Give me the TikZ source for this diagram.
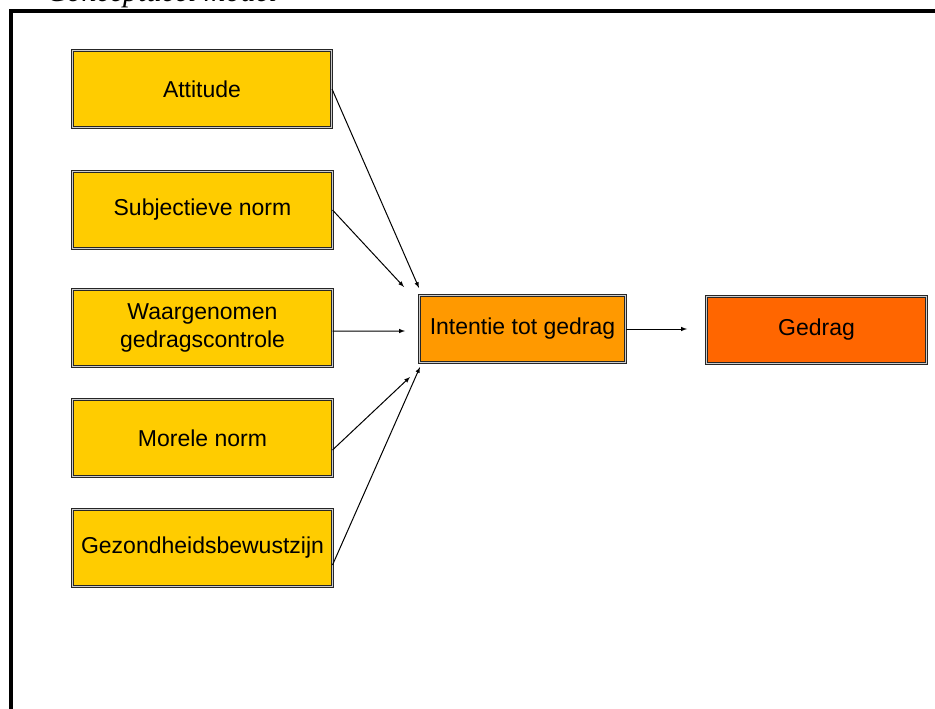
\documentclass[tikz,border=0pt]{standalone}
\usepackage{fontspec}
\setmainfont{Liberation Sans}
\newfontfamily\titlefont{Liberation Serif}
\usetikzlibrary{arrows}

\begin{document}
\begin{tikzpicture}[x=1bp,y=-1bp]

	\definecolor{geel}{RGB}{255,204,0}
	\definecolor{oranje}{RGB}{255,153,0}
	\definecolor{rood}{RGB}{255,102,0}

	\useasboundingbox (0,0) rectangle (935,709);
	\draw[line width=4bp] (10.5,760) -- (10.5,11) -- (990,11);
	\node[anchor=base west, font=\titlefont\itshape\fontsize{30bp}{34bp}\selectfont] (title) at (43,2) {Conceptueel model};

	\tikzstyle{edge} = [draw,->,>=latex,line width=1bp]
	\tikzset{factor/.style = {shape=rectangle,draw=black!85,line width=1bp,double=black!20,double distance=1bp,fill=geel,minimum width=259bp,minimum height=77bp,inner sep=0pt,align=center,font=\fontsize{23bp}{28bp}\selectfont}}
	\node[factor] (att) at (202,89) {Attitude};
	\node[factor] (subj) at (202.5,210) {Subjectieve norm};
	\node[factor] (waar) at (202.5,328) {Waargenomen\\gedragscontrole};
	\node[factor] (mor) at (202.5,438) {Morele norm};
	\node[factor] (gez) at (202.5,548) {Gezondheidsbewustzijn};

	\tikzset{factor/.append style = {minimum height=67bp}}
	\node[factor, fill=oranje, minimum width=206bp] (int) at (522.5,329) {Intentie tot gedrag};
	\node[factor, fill=rood, minimum width=220bp] (ged) at (816.5,330) {Gedrag};

	% losse eindpunten van de pijlen
	\coordinate (p1) at (419,288);
	\coordinate (p2) at (404,287);
	\coordinate (p3) at (405,331);
	\coordinate (p4) at (410,377);
	\coordinate (p5) at (420,367);
	\coordinate (p6) at (687,329);

	\draw[edge] (att.east) to (p1);
	\draw[edge] (subj.east) to (p2);
	\draw[edge] ([yshift=-3bp]waar.east) to (p3);
	\draw[edge] ([yshift=-12bp]mor.east) to (p4);
	\draw[edge] ([yshift=-17bp]gez.east) to (p5);
	\draw[edge] (int.east) to (p6);
\end{tikzpicture}
\end{document}
